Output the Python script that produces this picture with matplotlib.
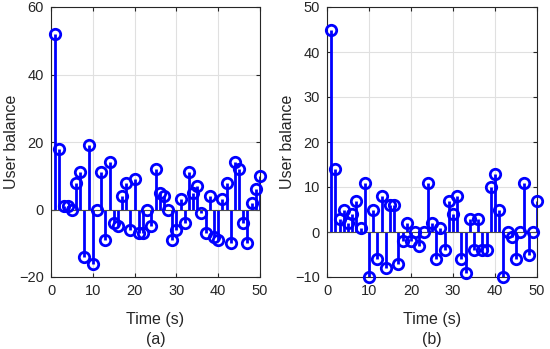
import matplotlib.pyplot as plt
import numpy as np

plt.rcParams['font.family'] = ['Liberation Sans', 'DejaVu Sans']

t = np.arange(1, 51)

balance_a = [52, 18, 1, 1, 0, 8, 11, -14, 19, -16,
             0, 11, -9, 14, -4, -5, 4, 8, -6, 9,
             -7, -7, 0, -5, 12, 5, 4, 0, -9, -6,
             3, -4, 11, 5, 7, -1, -7, 4, -8, -9,
             3, 8, -10, 14, 12, -4, -10, 2, 6, 10]

balance_b = [45, 14, 3, 5, 2, 4, 7, 1, 11, -10,
             5, -6, 8, -8, 6, 6, -7, -2, 2, -2,
             0, -3, 0, 11, 2, -6, 1, -4, 7, 4,
             8, -6, -9, 3, -4, 3, -4, -4, 10, 13,
             5, -10, 0, -1, -6, 0, 11, -5, 0, 7]

panels = [
    (balance_a, [51, 260], (-20, 60), [-20, 0, 20, 40, 60], '(a)'),
    (balance_b, [327, 537], (-10, 50), [-10, 0, 10, 20, 30, 40, 50], '(b)'),
]

W, H = 550, 349
fig = plt.figure(figsize=(W / 100, H / 100), dpi=100)
axcol = '0.15'

for vals, (x0, x1), ylim, yticks, tag in panels:
    ax = fig.add_axes([x0 / W, (H - 277) / H, (x1 - x0) / W, 270 / H])
    ml, sl, bl = ax.stem(t, vals, linefmt='b-', markerfmt='bo', basefmt='-')
    plt.setp(sl, linewidth=2)
    plt.setp(ml, markersize=7.5, markerfacecolor='none', markeredgewidth=2,
             clip_on=False, zorder=4)
    plt.setp(bl, color='0.3', linewidth=0.8)
    bl.set_xdata([0, 50])
    ax.set_xlim(0, 50)
    ax.set_ylim(*ylim)
    ax.set_xticks([0, 10, 20, 30, 40, 50])
    ax.set_yticks(yticks)
    ax.grid(True, color='0.88', linewidth=0.8)
    ax.set_axisbelow(True)
    ax.tick_params(direction='in', length=3, colors=axcol, labelsize=10.5,
                   labelcolor='0.15', top=True, right=True, pad=5)
    for s in ax.spines.values():
        s.set_color(axcol)
        s.set_linewidth(0.8)
    ax.set_xlabel('Time (s)\n' + tag, fontsize=11.5, color='0.15',
                  linespacing=1.45, labelpad=10)
    ax.set_ylabel('User balance', fontsize=11.5, color='0.15', labelpad=0)

fig.savefig('out.png', dpi=100)
